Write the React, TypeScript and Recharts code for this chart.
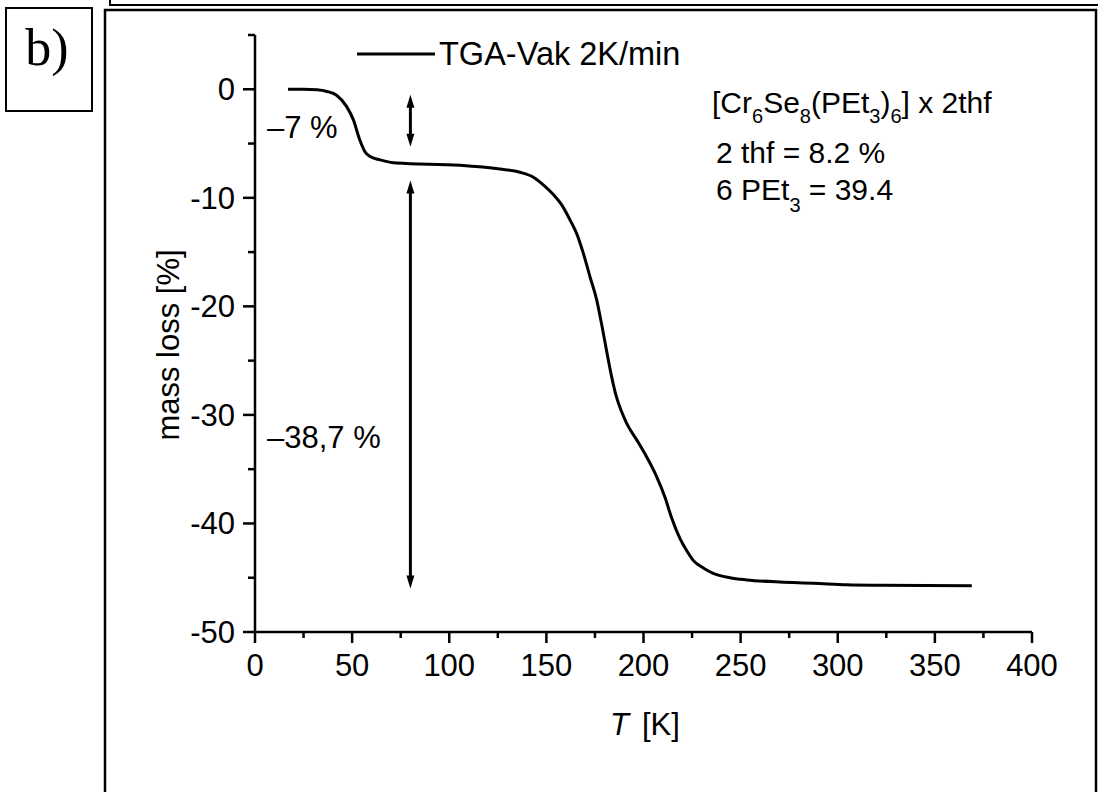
import React from "react";
import { Line, LineChart, ReferenceLine, XAxis, YAxis } from "recharts";

const temperature = [
  17, 25, 32, 37, 42, 47.2, 50.6, 54, 56.6, 59.2, 64.4, 73, 105.5, 126.1,
  136.4, 143.3, 148.4, 153.6, 157.9, 162.2, 165.6, 169.0, 172.5, 175.9, 178.5,
  181.0, 183.5, 186.0, 188.5, 191.4, 196.5, 201.7, 206.8, 211.1, 214.5, 218.8,
  222.2, 225.6, 230.8, 235.9, 244.5, 253.1, 270.3, 287.4, 304.6, 321.8, 369,
];
const massLoss = [
  0, 0, -0.05, -0.2, -0.55, -1.6, -2.8, -4.7, -5.75, -6.2, -6.5, -6.8, -7.0,
  -7.35, -7.65, -8.1, -8.8, -9.7, -10.65, -12.05, -13.3, -15.1, -17.3, -19.4,
  -21.7, -24.1, -26.4, -28.3, -29.6, -30.8, -32.3, -33.9, -35.7, -37.6, -39.5,
  -41.4, -42.5, -43.4, -44.1, -44.6, -45.0, -45.2, -45.4, -45.5, -45.65, -45.7,
  -45.75,
];
const xTicks = [0, 25, 50, 75, 100, 125, 150, 175, 200, 225, 250, 275, 300, 325, 350, 375, 400];
const yTicks = [-50, -45, -40, -35, -30, -25, -20, -15, -10, -5, 0, 5];

// double arrows: [x, yFrom, yTo]
const arrows = [
  [80, -0.5, -5.3],
  [80, -8.4, -46],
];

const data = temperature.map((t, i) => ({ t, mass: massLoss[i] }));

const FONT = "'Liberation Sans', Arial, sans-serif";

const XTick = (props: any) => {
  const { x, y, payload } = props;
  const major = payload.value % 50 === 0;
  return (
    <g>
      <line x1={x} x2={x} y1={y} y2={y + (major ? 11 : 6)} stroke="#000" strokeWidth={2.5} />
      {major && (
        <text x={x} y={y + 44} textAnchor="middle" fontSize={31} fontFamily={FONT} fill="#000">
          {payload.value}
        </text>
      )}
    </g>
  );
};

const YTick = (props: any) => {
  const { x, y, payload } = props;
  const major = payload.value % 10 === 0;
  return (
    <g>
      <line x1={x} x2={x - (major ? 12 : 7)} y1={y} y2={y} stroke="#000" strokeWidth={2.5} />
      {major && (
        <text x={x - 20} y={y + 11} textAnchor="end" fontSize={31} fontFamily={FONT} fill="#000">
          {payload.value}
        </text>
      )}
    </g>
  );
};

const DoubleArrow = (props: any) => {
  const { x1, y1, x2, y2 } = props;
  const top = Math.min(y1, y2);
  const bot = Math.max(y1, y2);
  return (
    <g>
      <line x1={x1} x2={x2} y1={top + 8} y2={bot - 8} stroke="#000" strokeWidth={3} />
      <polygon points={`${x1},${top} ${x1 - 4},${top + 13} ${x1 + 4},${top + 13}`} fill="#000" />
      <polygon points={`${x1},${bot} ${x1 - 4},${bot - 13} ${x1 + 4},${bot - 13}`} fill="#000" />
    </g>
  );
};

export default function App() {
  return (
    <div style={{ position: "absolute", left: 0, top: 0, width: 1098, height: 792, background: "#fff" }}>
      <LineChart
        width={1098}
        height={792}
        data={data}
        margin={{ top: 35, right: 66, bottom: 120, left: 195 }}
      >
        <XAxis
          dataKey="t"
          type="number"
          domain={[0, 400]}
          ticks={xTicks}
          interval={0}
          height={40}
          tickSize={0}
          tickMargin={0}
          tickLine={false}
          tick={<XTick />}
          axisLine={{ stroke: "#000", strokeWidth: 2.5 }}
        />
        <YAxis
          type="number"
          domain={[-50, 5]}
          ticks={yTicks}
          interval={0}
          width={60}
          tickSize={0}
          tickMargin={0}
          tickLine={false}
          tick={<YTick />}
          axisLine={{ stroke: "#000", strokeWidth: 2.5 }}
        />
        {arrows.map(([ax, a, b], i) => (
          <ReferenceLine
            key={i}
            segment={[
              { x: ax, y: a },
              { x: ax, y: b },
            ]}
            shape={<DoubleArrow />}
          />
        ))}
        <Line
          type="monotone"
          dataKey="mass"
          stroke="#000"
          strokeWidth={3}
          dot={false}
          isAnimationActive={false}
        />
      </LineChart>
      <svg
        width={1098}
        height={792}
        style={{ position: "absolute", left: 0, top: 0, pointerEvents: "none" }}
        fontFamily={FONT}
      >
        {/* frame */}
        <rect x={6} y={8} width={86} height={103} fill="none" stroke="#000" strokeWidth={2} />
        <text x={47} y={65} textAnchor="middle" fontSize={52} fontFamily="'Liberation Serif', 'Times New Roman', serif">
          b)
        </text>
        <polyline points="110,0 110,5 1098,5" fill="none" stroke="#000" strokeWidth={2} />
        <polyline points="105,792 105,10 1096,10 1096,792" fill="none" stroke="#000" strokeWidth={2.5} />
        {/* legend */}
        <line x1={357} x2={435} y1={54} y2={54} stroke="#000" strokeWidth={3} />
        <text x={439} y={65} fontSize={32.5}>TGA-Vak 2K/min</text>
        {/* annotations */}
        <text x={267} y={138} fontSize={31}>–7 %</text>
        <text x={267} y={448} fontSize={31}>–38,7 %</text>
        <text x={712} y={113} fontSize={30}>
          [Cr<tspan fontSize={20} dy={10}>6</tspan>
          <tspan dy={-10}>Se</tspan>
          <tspan fontSize={20} dy={10}>8</tspan>
          <tspan dy={-10}>(PEt</tspan>
          <tspan fontSize={20} dy={10}>3</tspan>
          <tspan dy={-10}>)</tspan>
          <tspan fontSize={20} dy={10}>6</tspan>
          <tspan dy={-10}>] x 2thf</tspan>
        </text>
        <text x={716} y={163} fontSize={30}>2 thf = 8.2 %</text>
        <text x={716} y={200} fontSize={30}>
          6 PEt<tspan fontSize={20} dy={12}>3</tspan>
          <tspan dy={-12}> = 39.4</tspan>
        </text>
        {/* axis titles */}
        <text x={168} y={345} fontSize={31} textAnchor="middle" transform="rotate(-90 168 345)" dominantBaseline="central">
          mass loss [%]
        </text>
        <text y={735} fontSize={31}>
          <tspan x={610} fontStyle="italic">T</tspan>
          <tspan x={642}>[K]</tspan>
        </text>
      </svg>
    </div>
  );
}
